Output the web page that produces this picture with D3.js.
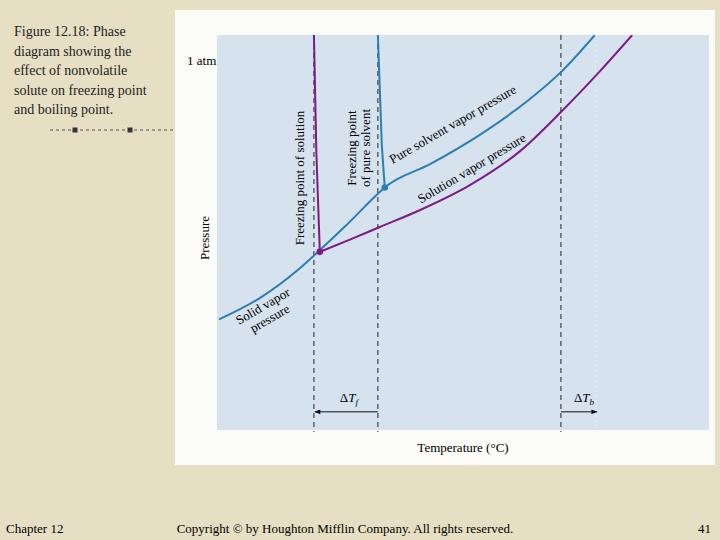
<!DOCTYPE html>
<html><head><meta charset="utf-8">
<script src="https://cdn.jsdelivr.net/npm/d3@7"></script>
<style>body{margin:0;background:#e6dfc4;}svg{display:block;font-family:"Liberation Serif",serif;}</style>
</head><body><svg id="c" width="720" height="540"></svg>
<script>
// data in plot units (x: 0..100 temperature, y: 0..100 pressure)
const pureVapor = [[0.4,28],[8.7,33.4],[16.9,41],[20.1,44.6],[26,51.5],[32.7,59.8],[34.1,61.4],[43.3,67.3],[53.5,74.8],[63.6,83.8],[69.9,90.6],[76.8,100]];
const solutionVapor = [[20.9,45.1],[27,48.2],[33.1,51.4],[41.3,55.7],[51.4,62.0],[61.6,70.6],[69.9,80.5],[77.8,90.8],[84.4,100]];
const pureFusion = [[32.7,100],[33.5,72],[34.1,61.4]];
const solFusion = [[19.7,100],[20.2,70],[20.9,45.1]];
const dashedX = [19.7, 32.7, 69.9];
const oneAtm = 93.4;
const figCaption = ["Figure 12.18: Phase","diagram showing the","effect of nonvolatile","solute on freezing point","and boiling point."];

const svg = d3.select("#c");
const L=217,R=709,T=35,B=430;
const x = d3.scaleLinear().domain([0,100]).range([L,R]);
const y = d3.scaleLinear().domain([0,100]).range([B,T]);
const blue="#2a7fb0", purple="#7d1a86";

const cap = svg.append("g").attr("font-size",14).attr("fill","#222");
figCaption.forEach((t,i)=>cap.append("text").attr("x",14).attr("y",36+i*19.5).text(t));
svg.append("line").attr("x1",50).attr("x2",175).attr("y1",130).attr("y2",130).attr("stroke","#555").attr("stroke-dasharray","3,3");
[75,130].forEach(px=>svg.append("rect").attr("x",px-2.5).attr("y",127.5).attr("width",5).attr("height",5).attr("fill","#333"));
svg.append("text").attr("x",6).attr("y",533).attr("font-size",13).text("Chapter 12");
svg.append("text").attr("x",345).attr("y",533).attr("font-size",13).attr("text-anchor","middle").text("Copyright © by Houghton Mifflin Company. All rights reserved.");
svg.append("text").attr("x",711).attr("y",533).attr("font-size",13).attr("text-anchor","end").text("41");

svg.append("rect").attr("x",175).attr("y",10).attr("width",540).attr("height",455).attr("fill","#fbfbf8");
svg.append("rect").attr("x",L).attr("y",T).attr("width",R-L).attr("height",B-T).attr("fill","#d6e2ee");
const g = svg.append("g");
g.append("line").attr("x1",x(77)).attr("x2",x(77)).attr("y1",T).attr("y2",B).attr("stroke","#e8eef4").attr("stroke-dasharray","2,3");
dashedX.forEach(v=>g.append("line").attr("x1",x(v)).attr("x2",x(v)).attr("y1",T).attr("y2",B+2).attr("stroke","#222").attr("stroke-dasharray","5,4").attr("stroke-width",1));

const line = d3.line().x(d=>x(d[0])).y(d=>y(d[1])).curve(d3.curveMonotoneX);
const lineV = d3.line().x(d=>x(d[0])).y(d=>y(d[1])).curve(d3.curveLinear);
svg.append("defs").append("clipPath").attr("id","pc").append("rect").attr("x",L).attr("y",T).attr("width",R-L).attr("height",B-T);
const cg = g.append("g").attr("clip-path","url(#pc)");
cg.append("path").attr("d",line(pureVapor)).attr("fill","none").attr("stroke",blue).attr("stroke-width",2);
cg.append("path").attr("d",lineV(pureFusion)).attr("fill","none").attr("stroke",blue).attr("stroke-width",2);
cg.append("path").attr("d",line(solutionVapor)).attr("fill","none").attr("stroke",purple).attr("stroke-width",2);
cg.append("path").attr("d",lineV(solFusion)).attr("fill","none").attr("stroke",purple).attr("stroke-width",2);
g.append("circle").attr("cx",x(34.1)).attr("cy",y(61.4)).attr("r",3.3).attr("fill",blue);
g.append("circle").attr("cx",x(20.9)).attr("cy",y(45.1)).attr("r",3.3).attr("fill",purple);

const defs = svg.select("defs");
defs.append("marker").attr("id","ah").attr("viewBox","0 0 10 10").attr("refX",9).attr("refY",5).attr("markerWidth",8).attr("markerHeight",6).attr("orient","auto").append("path").attr("d","M0,1L10,5L0,9z").attr("fill","#111");
const ay = y(4.6);
g.append("line").attr("x1",x(32.7)).attr("x2",x(19.9)).attr("y1",ay).attr("y2",ay).attr("stroke","#111").attr("marker-end","url(#ah)");
g.append("line").attr("x1",x(69.9)).attr("x2",x(77.2)).attr("y1",ay).attr("y2",ay).attr("stroke","#111").attr("marker-end","url(#ah)");
const dt = (px,sub)=>{const t=g.append("text").attr("x",px).attr("y",ay-10).attr("font-size",13).attr("text-anchor","middle").attr("font-style","italic");t.append("tspan").text("Δ").attr("font-style","normal");t.append("tspan").text("T");t.append("tspan").attr("font-size",9).attr("dy",3).text(sub);};
dt(x(26.8),"f"); dt(x(74.6),"b");

g.append("text").attr("x",187).attr("y",y(oneAtm)+4).attr("font-size",13).text("1 atm");
g.append("text").attr("transform","translate(209,238) rotate(-90)").attr("text-anchor","middle").attr("font-size",13).text("Pressure");
g.append("text").attr("x",463).attr("y",452).attr("text-anchor","middle").attr("font-size",13).text("Temperature (°C)");
const rl=(px,py,a,lines,fs=13)=>{const t=g.append("text").attr("transform",`translate(${px},${py}) rotate(${a})`).attr("text-anchor","middle").attr("font-size",fs);lines.forEach((s,i)=>t.append("tspan").attr("x",0).attr("dy",i?14:0).text(s));};
rl(304,178,-90,["Freezing point of solution"]);
rl(356,148,-90,["Freezing point","of pure solvent"]);
rl(455,128,-30,["Pure solvent vapor pressure"]);
rl(474,172,-31,["Solution vapor pressure"]);
rl(265,310,-30,["Solid vapor","pressure"]);
</script></body></html>
